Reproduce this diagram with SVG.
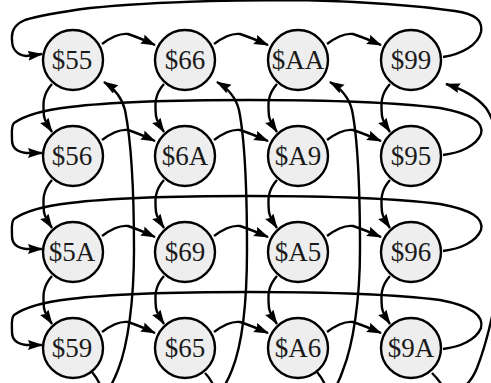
<svg xmlns="http://www.w3.org/2000/svg" width="491" height="383" viewBox="0 0 491 383">
<style>
.n circle{fill:#eeeeee;stroke:#000;stroke-width:2.4}
.n text{font-family:"Liberation Serif","Times New Roman",serif;font-size:27px;fill:#1a1a1a;text-anchor:middle}
.e path{fill:none;stroke:#000;stroke-width:2.4;marker-end:url(#ah)}
</style>
<defs>
<marker id="ah" markerUnits="userSpaceOnUse" markerWidth="16" markerHeight="12" refX="14" refY="5" orient="auto">
<path d="M0,0 L15,5 L0,10 L2,5 z" fill="#000"/>
</marker>
</defs>
<rect width="491" height="383" fill="#fff"/>
<g id="connectors" class="e">
<path d="M102,44 C110,38 120,33 128,34 C134,36 140,38 155,45"/>
<path d="M214,44 C222,38 232,33 240,34 C246,36 252,38 268,45"/>
<path d="M327,44 C335,38 345,33 353,34 C359,36 365,38 381,45"/>
<path d="M102,140 C110,134 120,129 128,130 C134,132 140,134 155,141"/>
<path d="M214,140 C222,134 232,129 240,130 C246,132 252,134 268,141"/>
<path d="M327,140 C335,134 345,129 353,130 C359,132 365,134 381,141"/>
<path d="M102,236 C110,230 120,225 128,226 C134,228 140,230 155,237"/>
<path d="M214,236 C222,230 232,225 240,226 C246,228 252,230 268,237"/>
<path d="M327,236 C335,230 345,225 353,226 C359,228 365,230 381,237"/>
<path d="M102,332 C110,326 120,321 128,322 C134,324 140,326 155,333"/>
<path d="M214,332 C222,326 232,321 240,322 C246,324 252,326 268,333"/>
<path d="M327,332 C335,326 345,321 353,322 C359,324 365,326 381,333"/>
<path d="M443,57 C462,54 478,45 481,32 C483,20 475,14 455,11 C420,6 380,2 300,0 C220,0 140,3 90,8 C60,12 40,15 25,20 C15,24 11,30 12,40 C12,49 17,55 26,56 L42,54"/>
<path d="M443,155 C460,153 476,146 481,134 C484,122 472,114 440,108 C400,103 330,100 250,100 C170,100 110,102 70,107 C45,110 25,115 14,123 C11,126 12,132 12,140 C12,148 18,152 26,153 L42,153"/>
<path d="M443,251 C460,249 476,242 481,230 C484,218 472,210 440,204 C400,199 330,196 250,196 C170,196 110,198 70,203 C45,206 25,211 14,219 C11,222 12,228 12,236 C12,244 18,248 26,249 L42,249"/>
<path d="M443,349 C460,347 476,340 481,328 C484,316 472,306 440,300 C400,295 330,292 250,292 C170,292 110,294 70,299 C45,302 25,307 14,315 C11,318 12,324 12,332 C12,340 18,344 26,345 L42,345"/>
<path d="M52,84 C42,95 43,105 44,116 C45,122 48,126 52,132"/>
<path d="M52,180 C42,191 43,201 44,212 C45,218 48,222 52,228"/>
<path d="M52,276 C42,287 43,297 44,308 C45,314 48,318 52,324"/>
<path d="M164,84 C154,95 155,105 156,116 C157,122 160,126 164,132"/>
<path d="M164,180 C154,191 155,201 156,212 C157,218 160,222 164,228"/>
<path d="M164,276 C154,287 155,297 156,308 C157,314 160,318 164,324"/>
<path d="M277,84 C267,95 268,105 269,116 C270,122 273,126 277,132"/>
<path d="M277,180 C267,191 268,201 269,212 C270,218 273,222 277,228"/>
<path d="M277,276 C267,287 268,297 269,308 C270,314 273,318 277,324"/>
<path d="M390,84 C380,95 381,105 382,116 C383,122 386,126 390,132"/>
<path d="M390,180 C380,191 381,201 382,212 C383,218 386,222 390,228"/>
<path d="M390,276 C380,287 381,297 382,308 C383,314 386,318 390,324"/>
<path d="M92,372 C97,378 101,386 103,392 C107,394 112,385 118,370 C128,345 134,300 134,250 C134,190 131,140 125,110 C122,98 115,89 104,82"/>
<path d="M205,373 C210,378 214,386 216,392 C220,394 226,385 232,370 C242,345 247,300 247,250 C247,190 245,140 239,110 C236,98 229,89 217,82"/>
<path d="M317,372 C322,378 326,386 328,392 C332,394 338,385 343,370 C353,345 360,300 360,250 C360,190 358,140 352,110 C349,98 342,89 330,82"/>
<path d="M432,373 C437,378 442,384 446,392 C460,393 470,385 477,368 C488,340 500,290 505,230 C505,160 498,125 486,108 C476,96 462,89 446,84"/>
</g>
<g id="n55" class="n"><circle cx="73" cy="60" r="30"/><text x="72" y="69">$55</text></g>
<g id="n66" class="n"><circle cx="185" cy="60" r="30"/><text x="185" y="69">$66</text></g>
<g id="nAA" class="n"><circle cx="298" cy="60" r="30"/><text x="298" y="69">$AA</text></g>
<g id="n99" class="n"><circle cx="411" cy="60" r="30"/><text x="411" y="69">$99</text></g>
<g id="n56" class="n"><circle cx="73" cy="156" r="30"/><text x="72" y="165">$56</text></g>
<g id="n6A" class="n"><circle cx="185" cy="156" r="30"/><text x="185" y="165">$6A</text></g>
<g id="nA9" class="n"><circle cx="298" cy="156" r="30"/><text x="298" y="165">$A9</text></g>
<g id="n95" class="n"><circle cx="411" cy="156" r="30"/><text x="411" y="165">$95</text></g>
<g id="n5A" class="n"><circle cx="73" cy="252" r="30"/><text x="72" y="261">$5A</text></g>
<g id="n69" class="n"><circle cx="185" cy="252" r="30"/><text x="185" y="261">$69</text></g>
<g id="nA5" class="n"><circle cx="298" cy="252" r="30"/><text x="298" y="261">$A5</text></g>
<g id="n96" class="n"><circle cx="411" cy="252" r="30"/><text x="411" y="261">$96</text></g>
<g id="n59" class="n"><circle cx="73" cy="348" r="30"/><text x="72" y="357">$59</text></g>
<g id="n65" class="n"><circle cx="185" cy="348" r="30"/><text x="185" y="357">$65</text></g>
<g id="nA6" class="n"><circle cx="298" cy="348" r="30"/><text x="298" y="357">$A6</text></g>
<g id="n9A" class="n"><circle cx="411" cy="348" r="30"/><text x="411" y="357">$9A</text></g>
</svg>
